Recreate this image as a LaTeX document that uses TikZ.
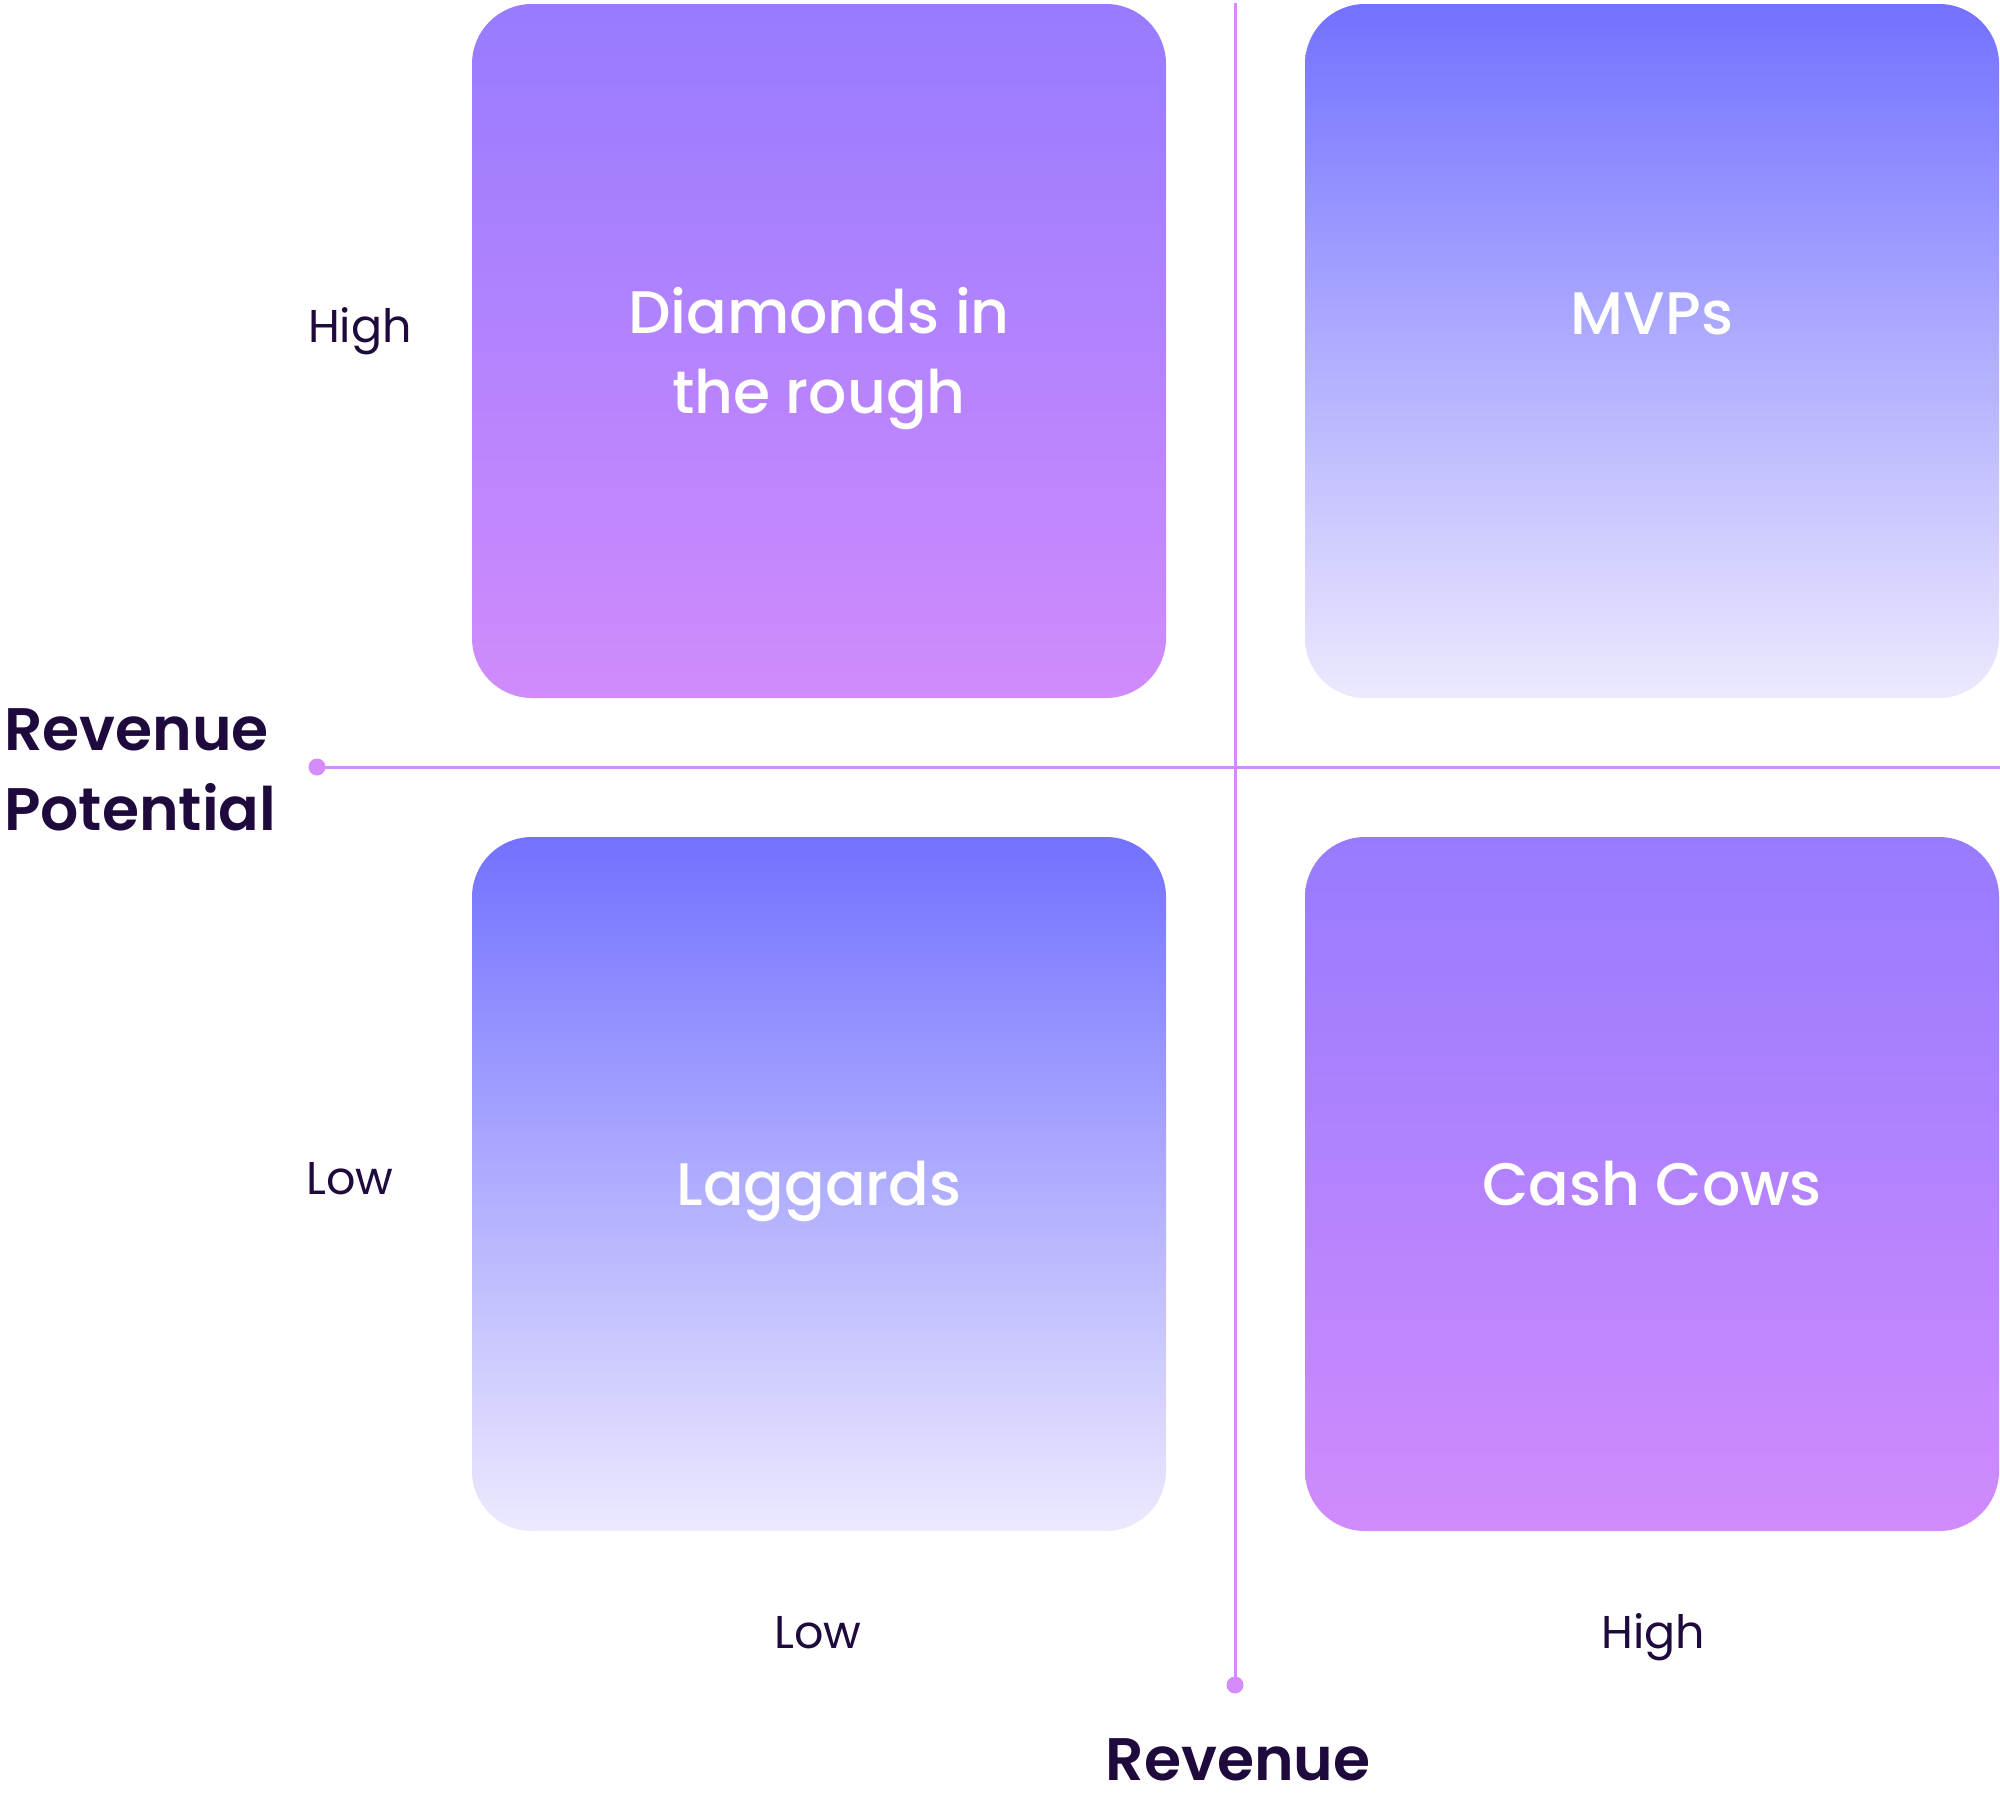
\documentclass[tikz,border=0pt]{standalone}
\usepackage{fontspec}
\setmainfont{Poppins}
\newfontfamily\medfont{Poppins Medium}
\newfontfamily\semifont{Poppins SemiBold}
\definecolor{ink}{HTML}{1E0A3C}
\definecolor{axis}{HTML}{D48CFA}
\definecolor{purpTop}{HTML}{977BFF}
\definecolor{purpBot}{HTML}{D08BFC}
\definecolor{blueTop}{HTML}{7371FF}
\definecolor{blueBot}{HTML}{ECE9FE}
\tikzset{
  box/.style={shade, rounded corners=60pt, minimum width=694pt, minimum height=694pt, inner sep=0pt, draw=none},
  purp/.style={top color=purpTop, bottom color=purpBot},
  blu/.style={top color=blueTop, bottom color=blueBot},
  boxtext/.style={text=white, font=\medfont\fontsize{60}{80}\selectfont, align=center, inner sep=0pt},
  ticktext/.style={text=ink, font=\fontsize{46}{56}\selectfont, inner sep=0pt, anchor=base},
  axistext/.style={text=ink, font=\semifont\fontsize{60}{80}\selectfont, inner sep=0pt},
  axisline/.style={draw=axis, line width=3pt},
  dot/.style={circle, fill=axis, minimum size=17pt, inner sep=0pt}
}
\begin{document}
\begin{tikzpicture}[x=1pt,y=-1pt]
\useasboundingbox (0,0) rectangle (2000,1797);
% boxes
\node (tl) [box, purp] at (819,351) {};
\node (tr) [box, blu] at (1652,351) {};
\node (bl) [box, blu] at (819,1184) {};
\node (br) [box, purp] at (1652,1184) {};
% axes
\coordinate (vtop) at (1235,3);
\coordinate (hend) at (2000,767);
\node (ldot) [dot] at (317,767) {};
\node (bdot) [dot] at (1235,1685) {};
\draw[axisline] (vtop) -- (bdot.center);
\draw[axisline] (ldot.center) -- (hend);
% box labels
\node (tlt) [boxtext] at (819,359) {Diamonds in\\the rough};
\node (trt) [boxtext, anchor=base] at (1652,334) {MVPs};
\node (blt) [boxtext, anchor=base] at (819,1205) {Laggards};
\node (brt) [boxtext, anchor=base] at (1652,1205) {Cash Cows};
% tick labels
\node (yhigh) [ticktext] at (360,342) {High};
\node (ylow) [ticktext] at (350,1194) {Low};
\node (xlow) [ticktext] at (818,1648) {Low};
\node (xhigh) [ticktext] at (1653,1648) {High};
% axis titles
\node (ytitle) [axistext, anchor=west, align=left] at (4,770) {Revenue\\Potential};
\node (xtitle) [axistext, anchor=base, text depth=0pt] at (1238,1780) {Revenue};
\end{tikzpicture}
\end{document}
